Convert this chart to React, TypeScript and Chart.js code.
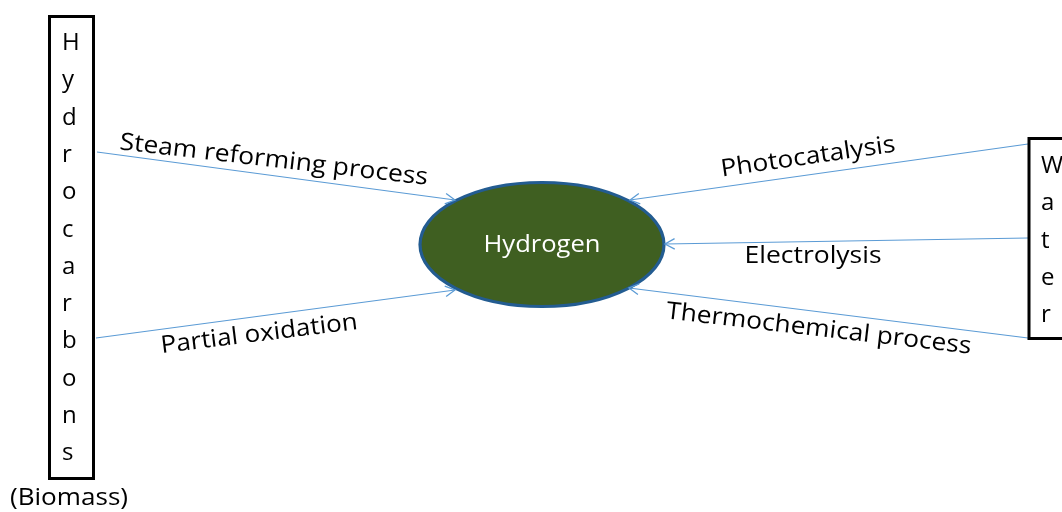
import React, { useEffect, useRef } from 'react';
import { Chart, registerables } from 'chart.js';
Chart.register(...registerables);

// Coordinate space of the diagram (data units)
const X_MIN = 0, X_MAX = 1062, Y_MIN = 0, Y_MAX = 512;

// Flow routes into Hydrogen
const routeNames = ['Steam reforming process', 'Partial oxidation', 'Photocatalysis', 'Electrolysis', 'Thermochemical process'];
const routeFromX = [97, 96, 1028, 1028, 1028];
const routeFromY = [152, 338, 144, 238, 338];
const routeToX = [455, 455, 630, 665, 629];
const routeToY = [200, 290, 200, 244, 288];

// Route labels (baseline centre, angle in degrees, text length)
const labelX = [273, 260, 809, 813, 818];
const labelY = [167, 341, 164, 263, 336];
const labelAngle = [6.6, -7.0, -8.2, 0, 6.6];
const labelLen = [310, 198, 176, 137, 307];

// Hydrogen node (ellipse)
const hubCenter = [542, 244.5];
const hubRadius = [122, 62];
const hubLabel = 'Hydrogen';

// Source boxes
const sourceLabels = ['Hydrocarbons', 'Water'];
const sourceBoxX0 = [49.5, 1029];
const sourceBoxX1 = [93.5, 1075];
const sourceBoxY0 = [16.5, 138.5];
const sourceBoxY1 = [478.5, 338.5];
const sourceTextX = [62, 1041];
const sourceFirstBaseline = [50, 173];
const sourceStep = [37.3, 37.3];
const biomassLabel = '(Biomass)';

const FONT = '"Open Sans", "Noto Sans", sans-serif';
const TEXT_PX = 24;

function drawFitted(ctx: CanvasRenderingContext2D, text: string, x: number, y: number, len: number, angleDeg: number) {
  ctx.save();
  ctx.font = `${TEXT_PX}px ${FONT}`;
  const w = ctx.measureText(text).width;
  ctx.translate(x, y);
  ctx.rotate((angleDeg * Math.PI) / 180);
  ctx.scale(len / w, 1);
  ctx.textAlign = 'center';
  ctx.textBaseline = 'alphabetic';
  ctx.fillText(text, 0, 0);
  ctx.restore();
}

const diagramPlugin = {
  id: 'diagram',
  afterDatasetsDraw(chart: any) {
    const ctx: CanvasRenderingContext2D = chart.ctx;
    const sx = chart.scales.x;
    const sy = chart.scales.y;
    const px = (v: number) => sx.getPixelForValue(v);
    const py = (v: number) => sy.getPixelForValue(v);
    ctx.save();

    // ellipse
    const cx = px(hubCenter[0]);
    const cy = py(hubCenter[1]);
    const rx = Math.abs(px(hubCenter[0] + hubRadius[0]) - cx);
    const ry = Math.abs(py(hubCenter[1] + hubRadius[1]) - cy);
    ctx.beginPath();
    ctx.ellipse(cx, cy, rx, ry, 0, 0, Math.PI * 2);
    ctx.fillStyle = '#3F5F21';
    ctx.fill();
    ctx.lineWidth = 3.2;
    ctx.strokeStyle = '#235C91';
    ctx.stroke();

    // hub label
    ctx.fillStyle = '#FFFFFF';
    drawFitted(ctx, hubLabel, cx, py(252), 117, 0);

    // arrowheads
    ctx.strokeStyle = '#5B9BD5';
    ctx.lineWidth = 1.3;
    for (let i = 0; i < routeNames.length; i++) {
      const x1 = px(routeToX[i]), y1 = py(routeToY[i]);
      const x0 = px(routeFromX[i]), y0 = py(routeFromY[i]);
      const a = Math.atan2(y1 - y0, x1 - x0);
      const L = 11, spread = 0.5;
      ctx.beginPath();
      ctx.moveTo(x1 - L * Math.cos(a - spread), y1 - L * Math.sin(a - spread));
      ctx.lineTo(x1, y1);
      ctx.lineTo(x1 - L * Math.cos(a + spread), y1 - L * Math.sin(a + spread));
      ctx.stroke();
    }

    // boxes
    ctx.strokeStyle = '#000000';
    ctx.lineWidth = 3;
    for (let i = 0; i < sourceLabels.length; i++) {
      ctx.fillStyle = '#FFFFFF';
      const bx = px(sourceBoxX0[i]), by = py(sourceBoxY0[i]);
      const bw = px(sourceBoxX1[i]) - bx, bh = py(sourceBoxY1[i]) - by;
      ctx.fillRect(bx, by, bw, bh);
      ctx.strokeRect(bx, by, bw, bh);
      ctx.fillStyle = '#000000';
      ctx.font = `24px ${FONT}`;
      ctx.textAlign = 'left';
      ctx.textBaseline = 'alphabetic';
      const letters = sourceLabels[i].split('');
      letters.forEach((ch, k) => {
        ctx.fillText(ch, px(sourceTextX[i]), py(sourceFirstBaseline[i] + k * sourceStep[i]));
      });
    }

    // biomass label
    ctx.fillStyle = '#000000';
    drawFitted(ctx, biomassLabel, px(69), py(505), 118, 0);

    // route labels
    for (let i = 0; i < routeNames.length; i++) {
      ctx.fillStyle = '#000000';
      drawFitted(ctx, routeNames[i], px(labelX[i]), py(labelY[i]), labelLen[i], labelAngle[i]);
    }

    ctx.restore();
  },
};

export default function App() {
  const ref = useRef<HTMLCanvasElement | null>(null);
  useEffect(() => {
    if (!ref.current) return;
    const datasets = routeNames.map((name, i) => ({
      label: name,
      data: [
        { x: routeFromX[i], y: routeFromY[i] },
        { x: routeToX[i], y: routeToY[i] },
      ],
      showLine: true,
      borderColor: '#5B9BD5',
      borderWidth: 1.2,
      pointRadius: 0,
      fill: false,
      clip: false as any,
    }));
    const chart = new Chart(ref.current, {
      type: 'scatter',
      data: { datasets },
      options: {
        animation: false,
        responsive: true,
        maintainAspectRatio: false,
        events: [],
        layout: { padding: 0 },
        plugins: { legend: { display: false }, tooltip: { enabled: false } },
        scales: {
          x: { type: 'linear', min: X_MIN, max: X_MAX, display: false },
          y: { type: 'linear', min: Y_MIN, max: Y_MAX, reverse: true, display: false },
        },
      },
      plugins: [diagramPlugin],
    });
    return () => chart.destroy();
  }, []);
  return (
    <div style={{ position: 'absolute', left: 0, top: 0, width: 1062, height: 512, background: '#fff' }}>
      <canvas ref={ref} />
    </div>
  );
}
